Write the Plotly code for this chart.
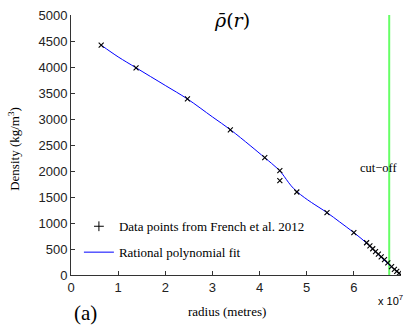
import plotly.graph_objects as go

# Data points from French et al. 2012 (radius in metres, density kg/m^3)
data_r = [0.64e7, 1.38e7, 2.47e7, 3.38e7, 4.11e7, 4.43e7, 4.43e7, 4.79e7, 5.43e7,
          6.00e7, 6.27e7, 6.34e7, 6.40e7, 6.46e7, 6.52e7, 6.58e7, 6.65e7, 6.72e7,
          6.80e7, 6.86e7, 6.91e7, 6.96e7, 6.99e7]
data_rho = [4420, 3985, 3385, 2790, 2256, 2006, 1813, 1596, 1198,
            815, 620, 560, 505, 450, 400, 350, 295, 235,
            160, 110, 70, 35, 5]

# Rational polynomial fit
fit_r = [0.64e7, 1.0e7, 1.38e7, 2.0e7, 2.47e7, 3.0e7, 3.38e7, 3.8e7, 4.11e7, 4.25e7,
         4.37e7, 4.47e7, 4.57e7, 4.67e7, 4.79e7, 4.95e7, 5.1e7, 5.43e7, 5.7e7, 6.0e7,
         6.3e7, 6.6e7, 6.99e7]
fit_rho = [4420, 4195, 3985, 3645, 3385, 3040, 2795, 2490, 2256, 2150,
           2055, 1960, 1835, 1715, 1605, 1490, 1395, 1200, 1020, 815,
           590, 320, 10]

cutoff_r = 6.75e7
cutoff_rho = [0, 5000]

xtick_vals = [0, 1e7, 2e7, 3e7, 4e7, 5e7, 6e7, 7e7]
xtick_text = ["0", "1", "2", "3", "4", "5", "6", ""]

SERIF = "Liberation Serif"
SANS = "Liberation Sans"

fig = go.Figure()
fig.add_trace(go.Scatter(x=[cutoff_r, cutoff_r], y=cutoff_rho, mode="lines",
                         line=dict(color="#66ff66", width=2), showlegend=False,
                         hoverinfo="skip"))
fig.add_trace(go.Scatter(x=fit_r, y=fit_rho, mode="lines", line_shape="spline",
                         line=dict(color="#0000ff", width=1), showlegend=False))
fig.add_trace(go.Scatter(x=data_r, y=data_rho, mode="markers",
                         marker=dict(symbol="x-thin", size=5,
                                     line=dict(color="black", width=1.1)),
                         showlegend=False))
# legend entries
fig.add_trace(go.Scatter(x=[None], y=[None], mode="markers",
                         name="Data points from French et al. 2012",
                         marker=dict(symbol="cross-thin", size=7,
                                     line=dict(color="black", width=1)),
                         legendgroup="a"))
fig.add_trace(go.Scatter(x=[None], y=[None], mode="lines",
                         name="Rational polynomial fit",
                         line=dict(color="#0000ff", width=1),
                         legendgroup="b"))

def note(text, x, y, size, family=SERIF, xref="paper", yref="paper", angle=0):
    return dict(text=text, xref=xref, yref=yref, x=x, y=y, xanchor="center",
                yanchor="middle", textangle=angle, showarrow=False,
                font=dict(family=family, size=size, color="black"))

fig.update_layout(
    width=405, height=328,
    margin=dict(l=71, r=4, t=15, b=53),
    plot_bgcolor="white", paper_bgcolor="white",
    showlegend=True,
    legend=dict(x=0.024, y=0.245, xanchor="left", yanchor="top",
                bgcolor="rgba(0,0,0,0)", font=dict(family=SERIF, size=13, color="black"),
                traceorder="grouped", tracegroupgap=6, itemwidth=30),
    xaxis=dict(range=[0, 7e7], tickvals=xtick_vals, ticktext=xtick_text,
               ticks="inside", ticklen=4, tickcolor="#333", showline=True,
               linecolor="#333", linewidth=1, showgrid=False, zeroline=False,
               tickfont=dict(family=SANS, size=13, color="#222")),
    yaxis=dict(range=[0, 5000], dtick=500, ticks="inside", ticklen=4,
               tickcolor="#333", showline=True, linecolor="#333", linewidth=1,
               showgrid=False, zeroline=False,
               tickfont=dict(family=SANS, size=13, color="#222")),
    annotations=[
        note("<i>ρ̄</i>(<i>r</i>)", 0.488, 0.982, 19, family="DejaVu Serif"),
        note("(a)", 0.045, -0.146, 21),
        note("radius (metres)", 0.473, -0.142, 13),
        note("Density (kg/m<sup>3</sup>)", -0.173, 0.485, 13, angle=-90),
        note("x 10<sup>7</sup>", 0.968, -0.095, 11, family=SANS),
        note("cut−off", 6.54e7, 2060, 12.5, xref="x", yref="y"),
    ],
)

fig.write_html("out.html")
